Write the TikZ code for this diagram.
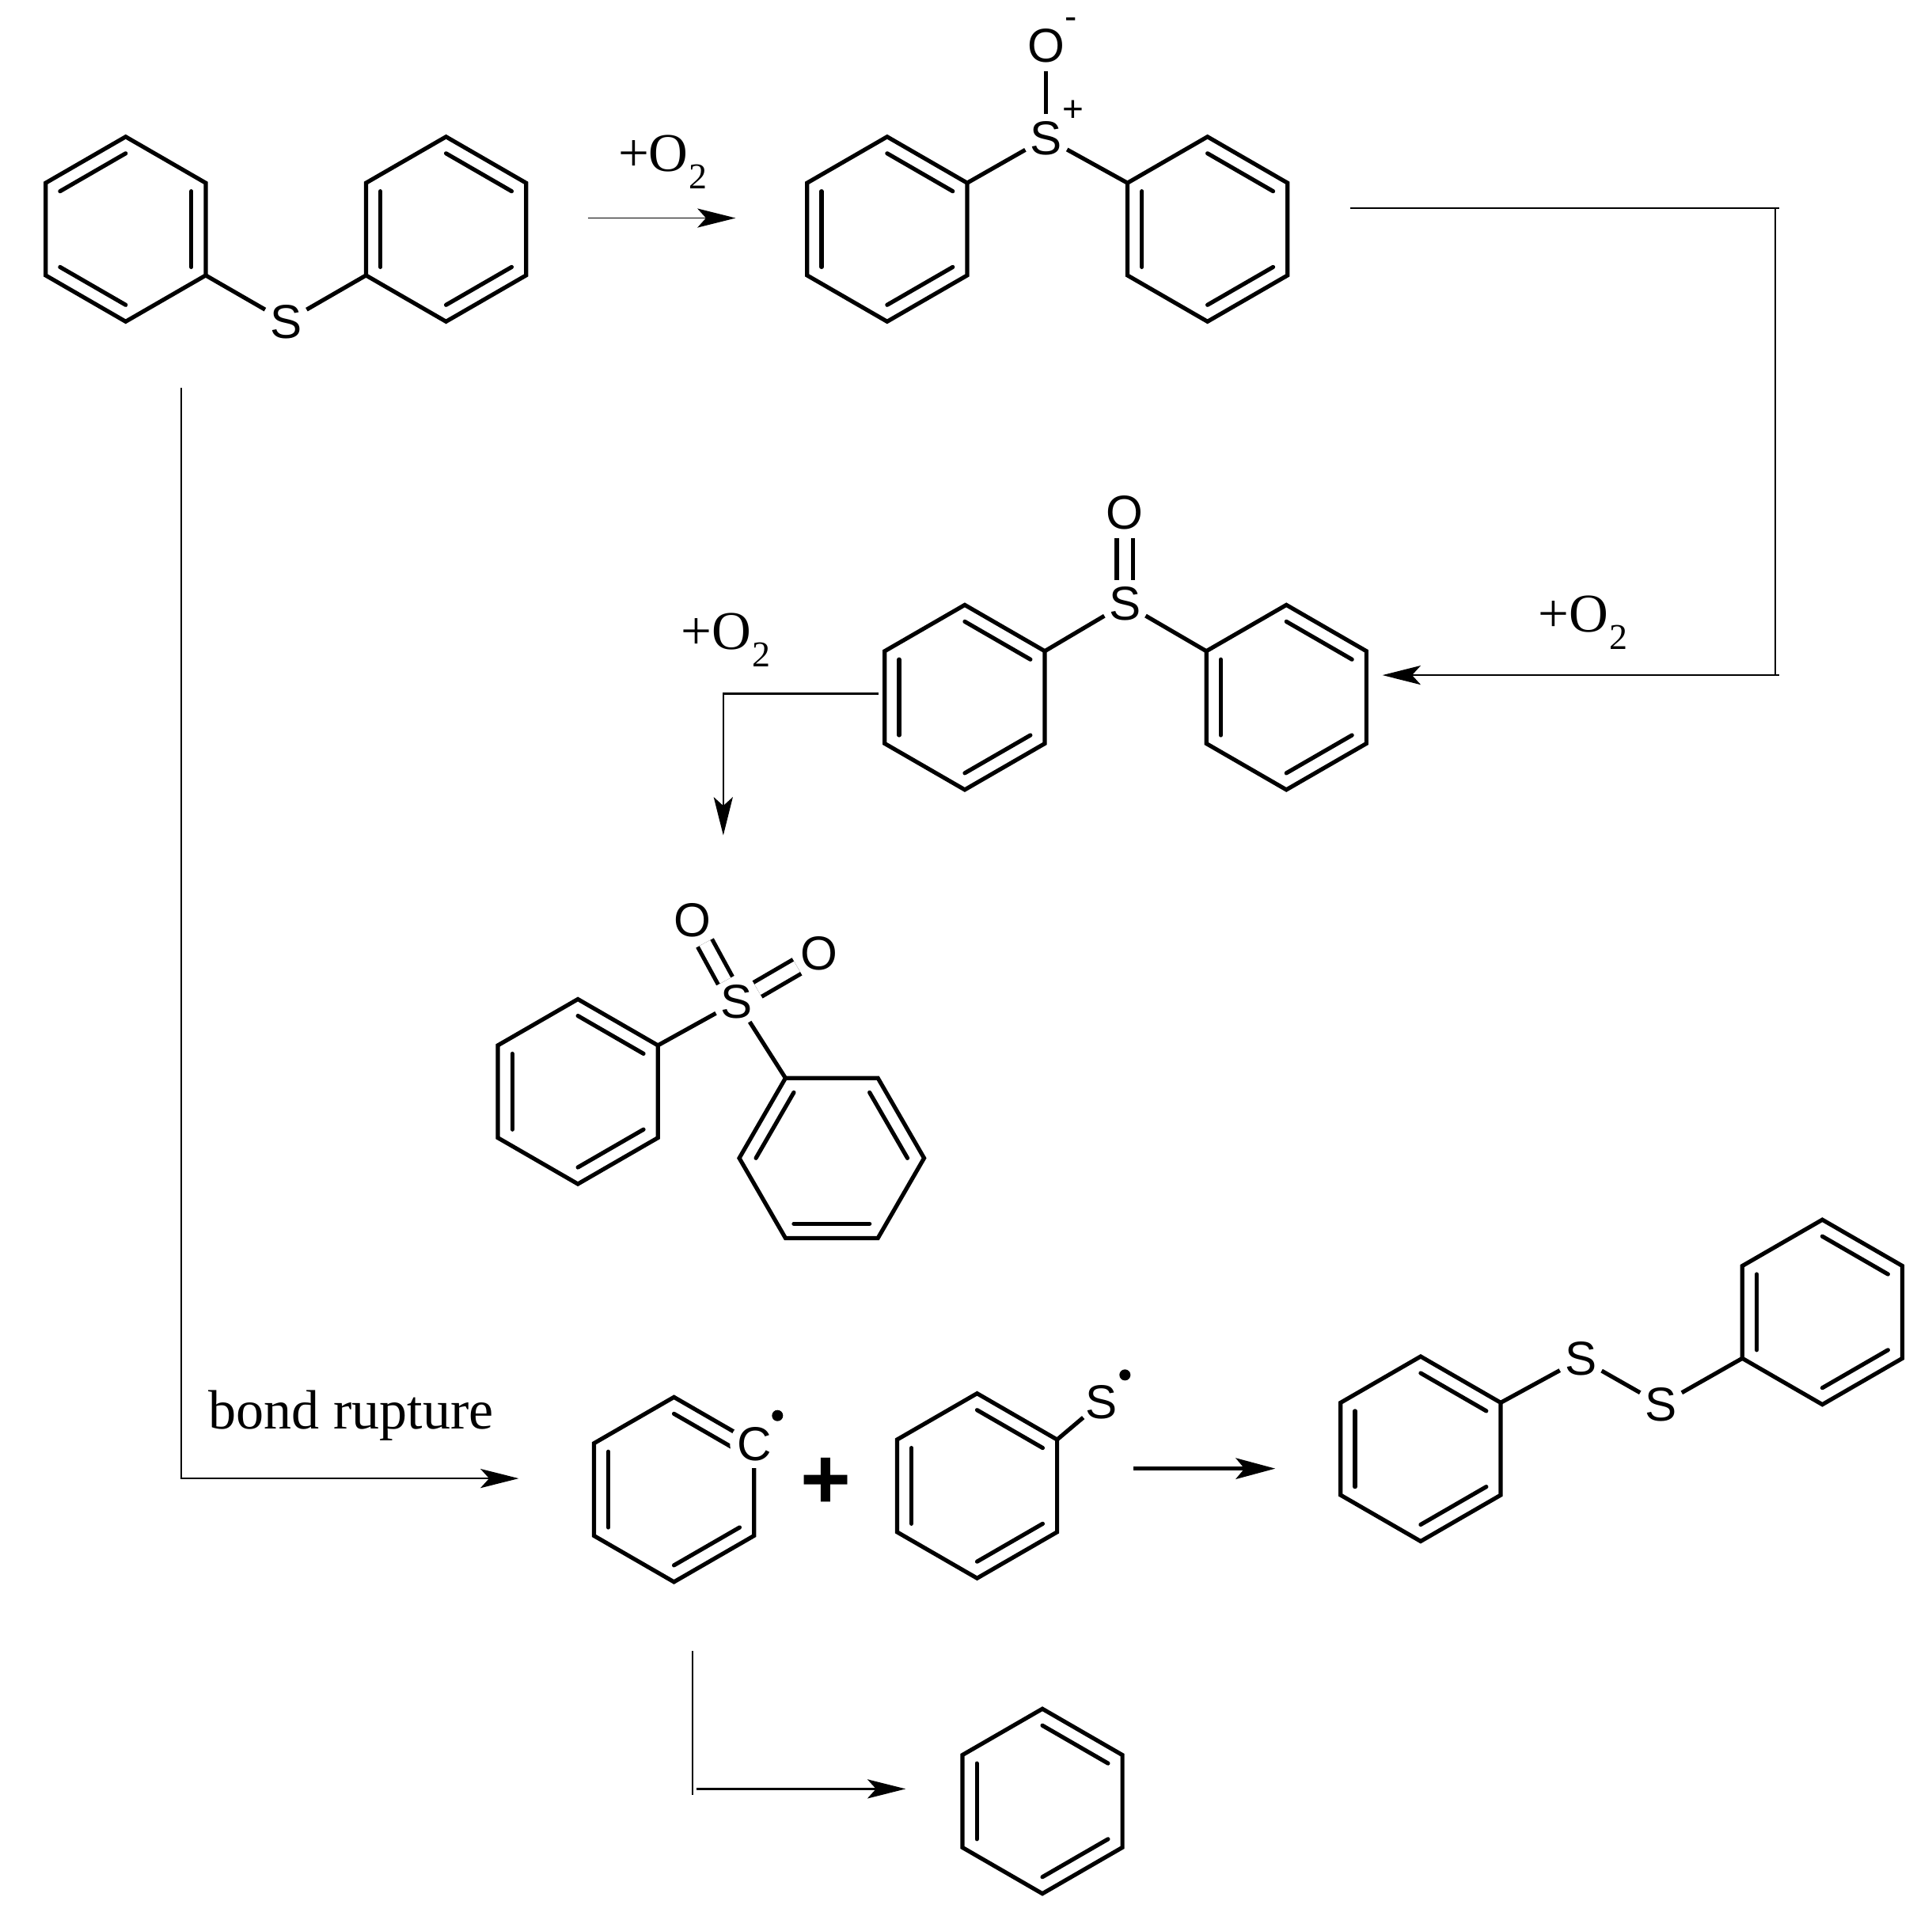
\documentclass[tikz,border=0pt]{standalone}
\usepackage{fontspec}
\setmainfont{Liberation Serif}
\setsansfont{Liberation Sans}
\usetikzlibrary{arrows.meta,calc}

% ring: name, centre, rotation of the first corner
\newcommand{\phring}[3]{%
    \foreach \i in {1,...,6}{
        \coordinate (#1-\i) at ($(#2)+({#3+60*(\i-1)}:75)$);
    }
    \draw[bond] (#1-1) -- (#1-2) -- (#1-3) -- (#1-4) -- (#1-5) -- (#1-6) -- cycle;
    \foreach \i/\j in {1/2,3/4,5/6}{
        \draw[bond, line cap=round] ($(#2)!0.82!(#1-\i)$) -- ($(#2)!0.82!(#1-\j)$);
    }
}
\newcommand{\oxlabel}{+O\kern0.2pt\raisebox{-4pt}{\fontsize{8.4}{10}\selectfont 2}}

\begin{document}
\begin{tikzpicture}[
                x=0.1mm, y=0.1mm,
                bond/.style={line width=0.95pt},
                dbond/.style={bond, double, double distance=2.8pt},
                atom/.style={circle, inner sep=0pt, minimum size=3.6mm, font=\sffamily\fontsize{11}{12}\selectfont},
                charge/.style={inner sep=0pt, font=\sffamily\fontsize{8.4}{10}\selectfont},
                radical/.style={circle, fill=black, inner sep=0pt, minimum size=0.9mm},
                rel/.style={line width=0.42pt, -{Stealth[length=3.1mm, width=1.55mm, inset=0.7mm]}},
                relplain/.style={line width=0.42pt},
                edgelabel/.style={inner sep=0pt, anchor=base west, font=\fontsize{12.6}{14}\selectfont}
            ]
                \useasboundingbox (0,0) rectangle (1568,-1555);

                % diphenyl sulfide
                \phring{ringA}{102,-186}{90}
                \phring{ringB}{362,-186}{30}
                \node[atom] (sulfide) at (232,-261) {S};
                \draw[bond] (ringA-5) -- (sulfide);
                \draw[bond] (ringB-4) -- (sulfide);

                % first oxidation product
                \phring{ringC}{720,-186}{30}
                \phring{ringD}{980,-186}{30}
                \node[atom] (sulfonium) at (849,-112) {S};
                \node[atom] (oxide) at (849,-37) {O};
                \node[charge] (plus) at (871,-90) {+};
                \node[charge] (minus) at (869,-19) {-};
                \draw[bond] (ringC-1) -- (sulfonium);
                \draw[bond] (ringD-3) -- (sulfonium);
                \draw[bond] (sulfonium) -- (oxide);

                % sulfoxide
                \phring{ringE}{783,-566}{30}
                \phring{ringF}{1044,-566}{30}
                \node[atom] (sulfoxide) at (913,-490) {S};
                \node[atom] (oxygen) at (913,-416) {O};
                \draw[bond] (ringE-1) -- (sulfoxide);
                \draw[bond] (ringF-3) -- (sulfoxide);
                \draw[dbond] (sulfoxide) -- (oxygen);

                % sulfone
                \phring{ringG}{469,-886}{30}
                \phring{ringH}{675,-940}{0}
                \node[atom] (sulfone) at (598,-813) {S};
                \node[atom] (oxygenA) at (562,-747) {O};
                \node[atom] (oxygenB) at (665,-774) {O};
                \draw[bond] (ringG-1) -- (sulfone);
                \draw[bond] (ringH-3) -- (sulfone);
                \draw[dbond] (sulfone) -- (oxygenA);
                \draw[dbond] (sulfone) -- (oxygenB);

                % radicals
                \phring{ringI}{547,-1209}{30}
                \node[atom, fill=white] (carbon) at (612,-1172) {C};
                \node[radical] (dotC) at (631,-1149) {};
                \node[inner sep=0pt, font=\sffamily\bfseries\fontsize{20}{22}\selectfont] (sum) at (670,-1204) {+};
                \phring{ringJ}{793,-1206}{30}
                \node[atom] (thiyl) at (894,-1138) {S};
                \node[radical] (dotS) at (913,-1116) {};
                \draw[bond] (ringJ-1) -- (thiyl);

                % disulfide
                \phring{ringK}{1153,-1176}{30}
                \phring{ringL}{1479,-1065}{30}
                \node[atom] (sulfurA) at (1283,-1103) {S};
                \node[atom] (sulfurB) at (1348,-1140) {S};
                \draw[bond] (ringK-1) -- (sulfurA);
                \draw[bond] (sulfurA) -- (sulfurB);
                \draw[bond] (ringL-4) -- (sulfurB);

                % benzene
                \phring{ringM}{846,-1462}{30}

                % arrow ends
                \coordinate (oxA) at (477,-177);
                \coordinate (oxB) at (597,-177);
                \coordinate (oxC) at (1096,-169);
                \coordinate (oxD) at (1444,-169);
                \coordinate (oxE) at (1441,-169);
                \coordinate (oxF) at (1441,-548);
                \coordinate (oxG) at (1444,-548);
                \coordinate (oxH) at (1122,-548);
                \coordinate (oxI) at (713,-563);
                \coordinate (oxJ) at (587,-563);
                \coordinate (oxK) at (587,-678);
                \coordinate (ruptA) at (147,-315);
                \coordinate (ruptB) at (147,-1200);
                \coordinate (ruptC) at (421,-1200);
                \coordinate (joinA) at (920,-1192);
                \coordinate (joinB) at (1035,-1192);
                \coordinate (hydA) at (562,-1340);
                \coordinate (hydB) at (562,-1457);
                \coordinate (hydC) at (565,-1452);
                \coordinate (hydD) at (735,-1452);

                \draw[rel, line width=0.3pt] (oxA) -- (oxB);
                \draw[relplain] (oxC) -- (oxD);
                \draw[relplain] (oxE) -- (oxF);
                \draw[rel] (oxG) -- (oxH);
                \draw[rel] (oxI) -- (oxJ) -- (oxK);
                \draw[rel] (ruptA) -- (ruptB) -- (ruptC);
                \draw[rel, line width=0.85pt, -{Stealth[length=3.2mm, width=1.7mm, inset=0.7mm]}] (joinA) -- (joinB);
                \draw[relplain] (hydA) -- (hydB);
                \draw[rel] (hydC) -- (hydD);

                % labels
                \node[edgelabel] (labelA) at (501,-139) {\oxlabel};
                \node[edgelabel] (labelB) at (1248,-513) {\oxlabel};
                \node[edgelabel] (labelC) at (552,-527) {\oxlabel};
                \node[edgelabel, anchor=base, font=\fontsize{12.8}{15}\selectfont] (labelD) at (285,-1160) {bond rupture};
            \end{tikzpicture}
\end{document}
